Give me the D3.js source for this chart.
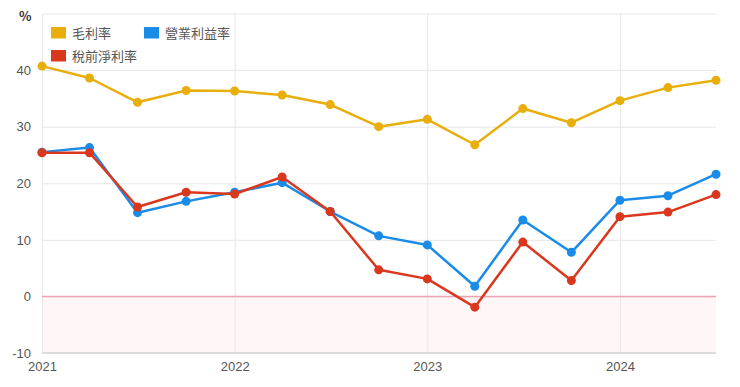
<!DOCTYPE html>
<html>
  <head>
    <meta charset="utf-8">
    <title>Margins</title>
    <script src="https://cdn.jsdelivr.net/npm/d3@7"></script>
    <style>
      body { margin: 0; background: #fff; }
      #chart { width: 740px; height: 387px; display: block; font-family: "Noto Sans CJK TC", "Noto Sans", sans-serif; }
      .tick text { fill: #555; font-size: 13px; }
      .grid .tick line { stroke: #e6e6e6; }
      .grid .domain { display: none; }
      .legendText { fill: #555; font-size: 13px; }
    </style>
  </head>
  <body>
    <svg id="chart"></svg>
    <script>
      // data
      var quarters = ["2021-01", "2021-04", "2021-07", "2021-10", "2022-01", "2022-04", "2022-07", "2022-10",
                      "2023-01", "2023-04", "2023-07", "2023-10", "2024-01", "2024-04", "2024-07"];
      var grossMargin = [40.7, 38.6, 34.3, 36.4, 36.3, 35.6, 33.9, 30.0, 31.3, 26.8, 33.2, 30.7, 34.6, 36.9, 38.2];
      var operatingMargin = [25.5, 26.3, 14.8, 16.8, 18.4, 20.1, 15.0, 10.7, 9.1, 1.8, 13.5, 7.8, 17.0, 17.8, 21.6];
      var pretaxMargin = [25.4, 25.4, 15.8, 18.4, 18.1, 21.1, 15.0, 4.7, 3.1, -1.9, 9.6, 2.8, 14.1, 14.9, 18.0];
      var seriesNames = ["毛利率", "營業利益率", "稅前淨利率"];
      var seriesColors = ["#e8ae0c", "#1a8ce8", "#d9381e"];
      var yTicks = [-10, 0, 10, 20, 30, 40, 50];

      var parseQ = d3.timeParse("%Y-%m");
      var dates = quarters.map(parseQ);
      var series = [grossMargin, operatingMargin, pretaxMargin].map(function(vals, i) {
        return { name: seriesNames[i], color: seriesColors[i],
                 values: vals.map(function(v, j) { return { date: dates[j], value: v }; }) };
      });

      var width = 740, height = 387;
      var margin = { top: 13.5, right: 24, bottom: 34, left: 42 };
      var chart = d3.select("#chart");

      var x = d3.scaleTime()
        .domain(d3.extent(dates))
        .range([margin.left, width - margin.right]);
      var y = d3.scaleLinear()
        .domain([-10, 50])
        .range([height - margin.bottom, margin.top]);

      // negative area
      chart.append("rect")
        .attr("x", x.range()[0])
        .attr("y", y(0))
        .attr("width", x.range()[1] - x.range()[0])
        .attr("height", y(-10) - y(0))
        .attr("fill", "#fff6f8");

      // horizontal grid + labels
      var yAxis = d3.axisLeft(y)
        .tickValues(yTicks)
        .tickSizeInner(x.range()[0] - x.range()[1])
        .tickSizeOuter(0)
        .tickPadding(11)
        .tickFormat(function(d) { return d === 50 ? "" : d; });
      chart.append("g")
        .attr("class", "grid")
        .attr("transform", "translate(" + x.range()[0] + ",0)")
        .call(yAxis)
        .call(function(g) { g.selectAll(".tick text").attr("x", -11); });

      // vertical grid + year labels
      var xAxis = d3.axisBottom(x)
        .ticks(d3.timeYear.every(1))
        .tickFormat(d3.timeFormat("%Y"))
        .tickSizeInner(y(-10) - y(50))
        .tickSizeOuter(0)
        .tickPadding(9);
      chart.append("g")
        .attr("class", "grid")
        .attr("transform", "translate(0," + y(50) + ")")
        .call(xAxis);

      // bottom line
      chart.append("line")
        .attr("x1", x.range()[0]).attr("x2", x.range()[1])
        .attr("y1", y(-10)).attr("y2", y(-10))
        .attr("stroke", "#dcdcdc").attr("stroke-width", 2);

      // zero line
      chart.append("line")
        .attr("x1", x.range()[0]).attr("x2", x.range()[1])
        .attr("y1", y(0)).attr("y2", y(0))
        .attr("stroke", "#f0a2b4").attr("stroke-width", 1.5);

      // unit
      chart.append("text")
        .attr("x", 19).attr("y", 21)
        .attr("font-size", 13).attr("font-weight", "bold").attr("fill", "#333")
        .text("%");

      // lines and points
      var line = d3.line()
        .x(function(d) { return x(d.date); })
        .y(function(d) { return y(d.value); });
      var plots = chart.selectAll(".series")
        .data(series)
        .join("g")
        .attr("class", "series");
      plots.append("path")
        .attr("d", function(d) { return line(d.values); })
        .attr("fill", "none")
        .attr("stroke", function(d) { return d.color; })
        .attr("stroke-width", 2.5)
        .attr("stroke-linejoin", "round");
      plots.selectAll("circle")
        .data(function(d) { return d.values.map(function(v) { return { date: v.date, value: v.value, color: d.color }; }); })
        .join("circle")
        .attr("cx", function(d) { return x(d.date); })
        .attr("cy", function(d) { return y(d.value); })
        .attr("r", 4.5)
        .attr("fill", function(d) { return d.color; });

      // legend
      var legendPos = [[51, 27], [144, 27], [51, 50]];
      var legend = chart.selectAll(".legend")
        .data(series)
        .join("g")
        .attr("class", "legend")
        .attr("transform", function(d, i) { return "translate(" + legendPos[i][0] + "," + legendPos[i][1] + ")"; });
      legend.append("rect")
        .attr("width", 15).attr("height", 11.5)
        .attr("fill", function(d) { return d.color; });
      legend.append("text")
        .attr("class", "legendText")
        .attr("x", 21).attr("y", 10.5)
        .text(function(d) { return d.name; });
    </script>
  </body>
</html>
